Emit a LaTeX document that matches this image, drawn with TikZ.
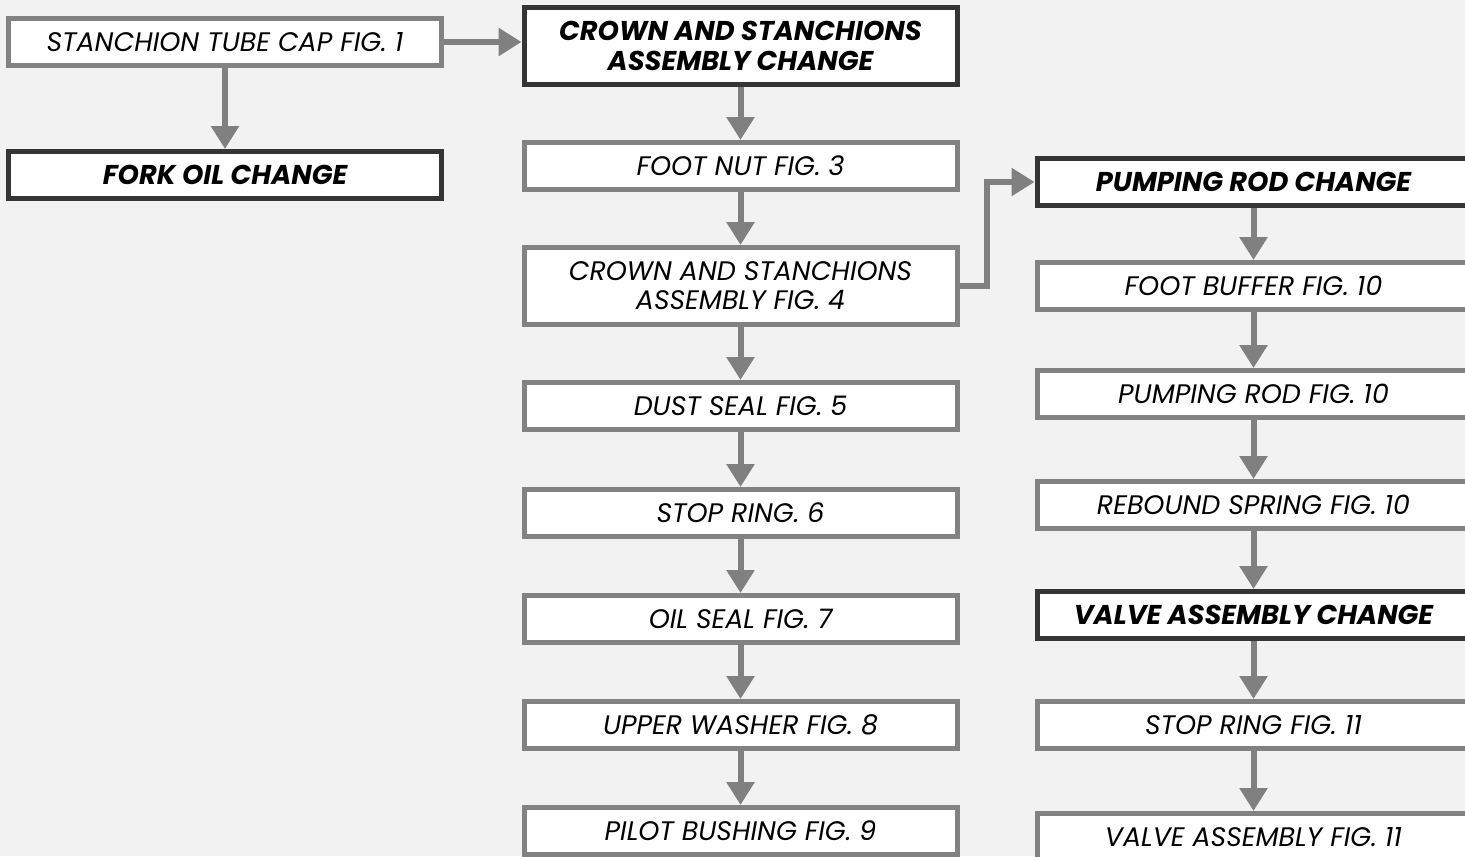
\documentclass[tikz,border=0pt]{standalone}
\usepackage{fontspec}
\setmainfont{Poppins}
\usetikzlibrary{arrows.meta,positioning}
\definecolor{paper}{HTML}{F2F2F2}
\definecolor{frame}{HTML}{828282}
\definecolor{darkframe}{HTML}{353535}
\definecolor{shaft}{HTML}{808080}
\tikzset{
  every node/.style={font=\fontsize{13.4}{14.6}\selectfont\itshape,text=black},
  part/.style={draw=frame,line width=2.5pt,fill=white,align=center,minimum width=216.5pt,minimum height=23.5pt,inner sep=2pt},
  task/.style={part,draw=darkframe,font=\fontsize{13.6}{15}\selectfont\bfseries\itshape},
  tall/.style={minimum height=38.5pt},
  flow/.style={-{Triangle[width=13.5pt,length=11.5pt]},line width=3pt,draw=shaft}
}
\begin{document}
\begin{tikzpicture}[x=0.5pt,y=-0.5pt]
  \fill[paper] (0,0) rectangle (1465,856);
  \useasboundingbox (0,0) rectangle (1465,856);

  % left column
  \node[part] (tubecap) at (225,42) {STANCHION TUBE CAP FIG. 1};
  \node[task,below=40.5pt of tubecap] (forkoil) {FORK OIL CHANGE};

  % middle column
  \node[task,tall] (crownchg) at (740.5,46) {CROWN AND STANCHIONS\\ASSEMBLY CHANGE};
  \node[part,below=26.5pt of crownchg] (footnut) {FOOT NUT FIG. 3};
  \node[part,tall,below=26.5pt of footnut] (crownasm) {CROWN AND STANCHIONS\\ASSEMBLY FIG. 4};
  \node[part,below=26.5pt of crownasm] (dustseal) {DUST SEAL FIG. 5};
  \node[part,below=27.5pt of dustseal] (stopsix) {STOP RING. 6};
  \node[part,below=27pt of stopsix] (oilseal) {OIL SEAL FIG. 7};
  \node[part,below=27pt of oilseal] (washer) {UPPER WASHER FIG. 8};
  \node[part,below=27pt of washer] (bushing) {PILOT BUSHING FIG. 9};

  % right column
  \node[task] (rodchg) at (1253.5,182) {PUMPING ROD CHANGE};
  \node[part,below=26pt of rodchg] (buffer) {FOOT BUFFER FIG. 10};
  \node[part,below=28pt of buffer] (rod) {PUMPING ROD FIG. 10};
  \node[part,below=29.5pt of rod] (rebound) {REBOUND SPRING FIG. 10};
  \node[task,below=29pt of rebound] (valvechg) {VALVE ASSEMBLY CHANGE};
  \node[part,below=29pt of valvechg] (stopeleven) {STOP RING FIG. 11};
  \node[part,below=30pt of stopeleven] (valve) {VALVE ASSEMBLY FIG. 11};

  \draw[flow] (tubecap.east) -- (tubecap.east -| crownchg.west);
  \draw[flow] (tubecap) -- (forkoil);
  \draw[flow] (crownchg) -- (footnut); \draw[flow] (footnut) -- (crownasm);
  \draw[flow] (crownasm) -- (dustseal); \draw[flow] (dustseal) -- (stopsix);
  \draw[flow] (stopsix) -- (oilseal); \draw[flow] (oilseal) -- (washer);
  \draw[flow] (washer) -- (bushing);
  \draw[flow] (crownasm.east) -- ++(13.5pt,0) |- (rodchg.west);
  \draw[flow] (rodchg) -- (buffer); \draw[flow] (buffer) -- (rod);
  \draw[flow] (rod) -- (rebound); \draw[flow] (rebound) -- (valvechg);
  \draw[flow] (valvechg) -- (stopeleven); \draw[flow] (stopeleven) -- (valve);
\end{tikzpicture}
\end{document}
